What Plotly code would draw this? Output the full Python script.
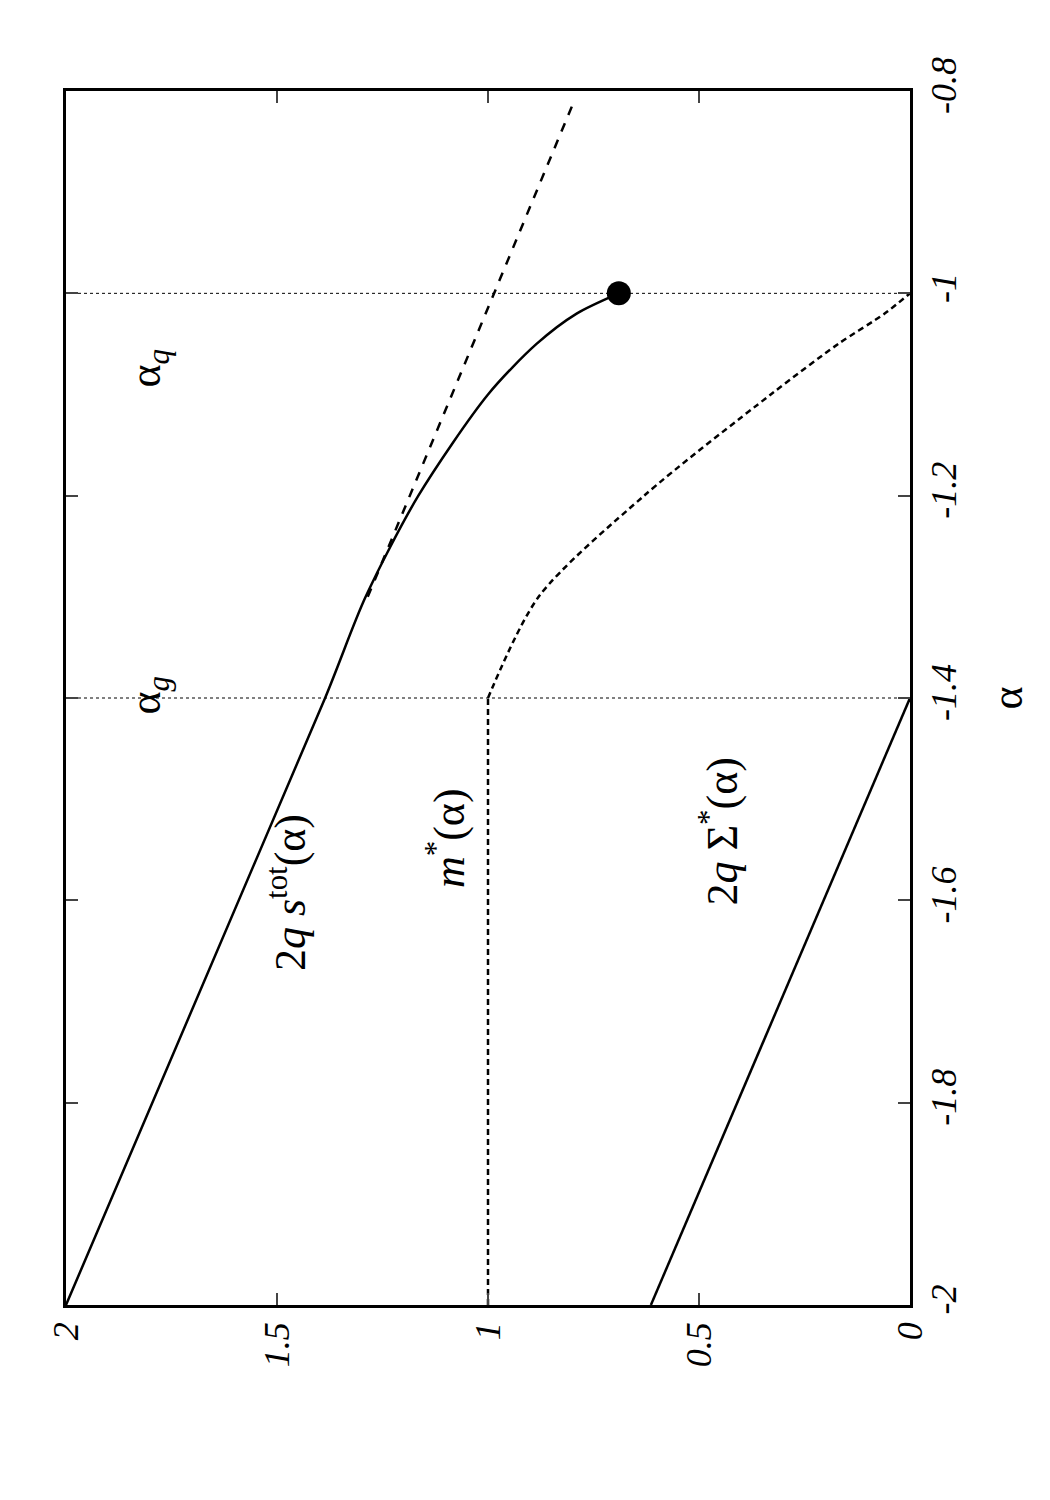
import plotly.graph_objects as go

# alpha values (vertical axis in picture), function values (horizontal, reversed)
stot_a = [-2.0, -1.4, -1.3, -1.2, -1.1, -1.05, -1.02, -1.0]
stot_v = [2.0, 1.386, 1.29, 1.165, 1.0, 0.885, 0.79, 0.69]
stot_dash_a = [-1.3, -0.814]
stot_dash_v = [1.285, 0.80]
m_a = [-2.0, -1.4, -1.3, -1.2, -1.1, -1.05, -1.02, -1.0]
m_v = [1.0, 1.0, 0.88, 0.63, 0.33, 0.17, 0.06, 0.0]
sig_a = [-2.0, -1.4]
sig_v = [0.614, 0.0]
dot_a = [-1.0]
dot_v = [0.69]
vlines = [-1.4, -1.0]

fig = go.Figure()
fig.add_trace(go.Scatter(x=stot_v, y=stot_a, mode="lines",
                         line=dict(color="black", width=2.5, shape="spline", smoothing=0.8)))
fig.add_trace(go.Scatter(x=stot_dash_v, y=stot_dash_a, mode="lines", line=dict(color="black", width=2.5, dash="dash")))
fig.add_trace(go.Scatter(x=m_v[:2], y=m_a[:2], mode="lines", line=dict(color="black", width=2.5, dash="6px,4px")))
fig.add_trace(go.Scatter(x=m_v[1:], y=m_a[1:], mode="lines",
                         line=dict(color="black", width=2.5, dash="6px,4px", shape="spline", smoothing=0.8)))
fig.add_trace(go.Scatter(x=sig_v, y=sig_a, mode="lines", line=dict(color="black", width=2.5)))
for a in vlines:
    fig.add_trace(go.Scatter(x=[2, 0], y=[a, a], mode="lines", line=dict(color="black", width=1, dash="dot")))
fig.add_trace(go.Scatter(x=dot_v, y=dot_a, mode="markers", marker=dict(color="black", size=24)))

serif = "Times New Roman, Liberation Serif, DejaVu Serif, serif"
tf = dict(family=serif, size=36, color="black", style="italic")
fig.update_layout(
    width=1050, height=1500, showlegend=False,
    plot_bgcolor="white", paper_bgcolor="white",
    margin=dict(l=58, r=148, t=83, b=203),
    xaxis=dict(range=[2, 0], tickvals=[0, 0.5, 1, 1.5, 2], ticktext=["0", "0.5", "1", "1.5", "2"],
               tickangle=-90, ticks="inside", ticklen=12, tickwidth=2, mirror="ticks",
               showline=True, linecolor="black", linewidth=2.5, showgrid=False, zeroline=False, tickfont=tf),
    yaxis=dict(range=[-2, -0.8], side="right", tickvals=[-2, -1.8, -1.6, -1.4, -1.2, -1, -0.8],
               ticktext=["-2", "-1.8", "-1.6", "-1.4", "-1.2", "-1", "-0.8"],
               tickangle=-90, ticks="inside", ticklen=12, tickwidth=2, mirror="ticks",
               showline=True, linecolor="black", linewidth=2.5, showgrid=False, zeroline=False, tickfont=tf),
)
af = dict(family=serif, size=44, color="black")
# (pixel x, pixel y, text) in the 1050x1500 picture
anns = [
    (110, 340, "α<sub><i>q</i></sub>"),
    (110, 688, "α<sub><i>g</i></sub>"),
    (250, 965, "2<i>q</i> <i>s</i><sup>tot</sup>(α)"),
    (438, 830, "<i>m</i><sup>*</sup>(α)"),
    (740, 900, "2<i>q</i> Σ<sup>*</sup>(α)"),
    (1025, 690, "α"),
]
for x, y, t in anns:
    fig.add_annotation(x=(x - 58) / 844, y=1 - (y - 83) / 1214, xref="paper", yref="paper", text=t,
                       showarrow=False, textangle=-90, font=af)
fig.write_html("out.html")
